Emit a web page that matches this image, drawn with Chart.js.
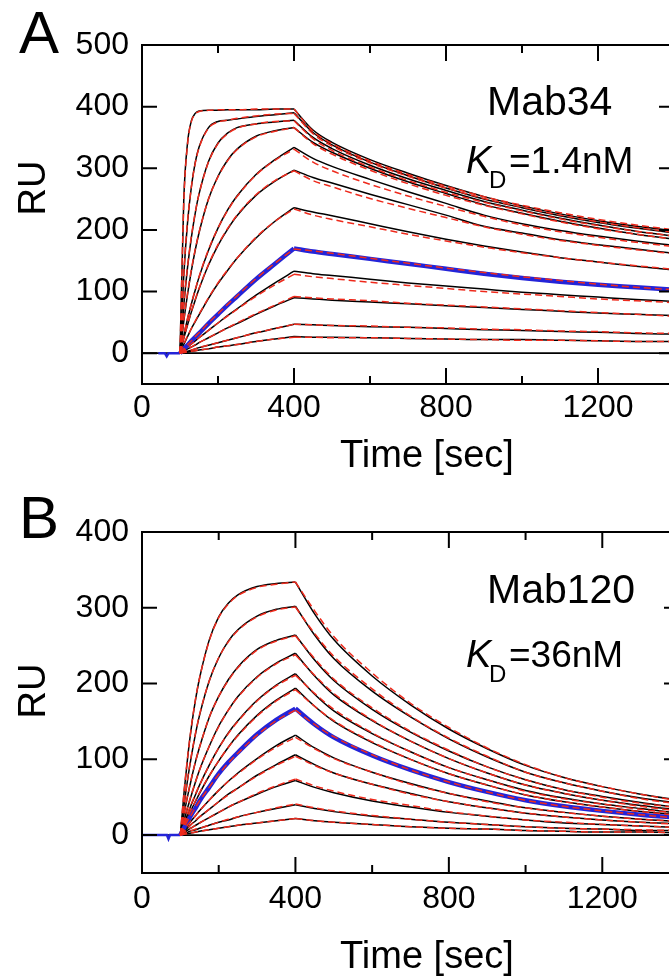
<!DOCTYPE html>
<html>
<head>
<meta charset="utf-8">
<script src="https://cdn.jsdelivr.net/npm/chart.js@4.4.0/dist/chart.umd.min.js"></script>
<style>
  html, body { margin: 0; padding: 0; background: #fff; overflow: hidden; width: 669px; height: 979px; }
  canvas { position: absolute; left: 0; }
  #chartA { top: 0; }
  #chartB { top: 480px; }
</style>
</head>
<body>
<canvas id="chartA" width="700" height="480"></canvas>
<canvas id="chartB" width="700" height="499"></canvas>
<script>
/* **** DATA **** */

// sample times (sec): injection at 100 s, dissociation from 400 s
const times = [100, 110, 120, 130, 140, 150, 175, 200, 225, 250, 300, 350, 400,
               450, 500, 600, 700, 800, 900, 1000, 1100, 1200, 1300, 1400];

const xTicks = [0, 400, 800, 1200];
const xMinorTicks = [200, 600, 1000];
const yTicksA = [0, 100, 200, 300, 400, 500];
const yTicksB = [0, 100, 200, 300, 400];

// baseline before injection (blue trace)
const baseTimesA = [43, 60, 65, 70, 100];
const baseValsA = [0, 0, -5, 0, 0];
const baseTimesB = [0, 60, 65, 69, 73, 100];
const baseValsB = [0, 0, 0, -5, 0, 0];

// Mab34 sensorgrams (black), index 7 is the blue one
const mab34Obs = [
  [0, 250, 342, 377, 389, 393, 394, 394, 395, 395, 395, 396, 396, 362, 342, 314, 292, 272, 254, 239, 226, 215, 206, 199],
  [0, 127, 213, 270, 309, 334, 366, 376, 378, 380, 384, 387, 390, 358, 338, 310, 288, 268, 250, 236, 223, 212, 203, 195],
  [0, 78, 140, 188, 227, 258, 311, 341, 357, 366, 372, 375, 378, 350, 332, 305, 283, 264, 246, 232, 219, 208, 198, 190],
  [0, 52, 96, 134, 167, 195, 250, 287, 313, 331, 352, 361, 366, 342, 326, 300, 278, 259, 241, 227, 214, 203, 193, 185],
  [0, 29, 56, 80, 102, 123, 167, 203, 232, 255, 290, 314, 334, 316, 303, 282, 262, 243, 224, 210, 199, 190, 182, 175],
  [0, 24, 46, 67, 86, 104, 143, 175, 201, 223, 256, 279, 297, 285, 276, 258, 241, 224, 206, 195, 184, 176, 169, 162],
  [0, 14, 27, 40, 51, 62, 89, 113, 134, 154, 187, 214, 236, 229, 223, 210, 197, 185, 174, 164, 155, 148, 141, 135],
  [0, 7, 13, 20, 26, 32, 48, 63, 78, 92, 120, 145, 170, 165, 161, 153, 145, 137, 129, 122, 116, 111, 107, 103],
  [0, 5, 10, 15, 20, 25, 37, 49, 61, 72, 94, 114, 133, 129, 126, 120, 114, 109, 104, 99, 95, 91, 87, 84],
  [0, 3, 7, 10, 13, 17, 25, 33, 41, 48, 63, 77, 90, 88, 86, 83, 80, 77, 74, 71, 68, 65, 63, 61],
  [0, 2, 3, 5, 7, 9, 13, 17, 21, 25, 33, 40, 47, 46, 45, 43, 42, 40, 38, 37, 35, 34, 32, 31],
  [0, 1, 2, 3, 4, 5, 7, 10, 12, 14, 19, 23, 27, 26, 26, 25, 24, 23, 22, 22, 21, 20, 19, 19]
];

// Mab34 fitted curves (red dashed)
const mab34Fit = [
  [0, 245, 340, 376, 388, 392, 394, 395, 395, 395, 396, 396, 396, 360, 340, 312, 290, 271, 254, 240, 228, 217, 208, 200],
  [0, 130, 215, 270, 308, 333, 365, 375, 378, 381, 385, 388, 389, 356, 336, 309, 287, 268, 251, 237, 224, 213, 204, 196],
  [0, 80, 142, 190, 228, 258, 310, 340, 356, 365, 372, 376, 377, 348, 329, 302, 280, 261, 245, 231, 218, 207, 198, 190],
  [0, 54, 98, 136, 168, 196, 250, 286, 312, 330, 351, 360, 366, 340, 323, 297, 275, 256, 240, 226, 213, 202, 193, 185],
  [0, 30, 57, 81, 103, 124, 168, 203, 231, 254, 289, 313, 331, 310, 296, 274, 255, 238, 222, 208, 197, 188, 180, 173],
  [0, 25, 47, 68, 87, 105, 144, 176, 202, 224, 257, 280, 296, 280, 270, 251, 235, 220, 205, 193, 183, 175, 168, 161],
  [0, 15, 28, 40, 52, 63, 90, 114, 135, 154, 188, 214, 234, 224, 217, 205, 193, 182, 172, 163, 155, 148, 142, 136],
  [0, 7, 14, 20, 27, 33, 49, 64, 79, 93, 121, 146, 169, 166, 162, 154, 146, 138, 131, 124, 118, 112, 107, 103],
  [0, 5, 10, 15, 20, 25, 37, 49, 60, 71, 92, 111, 128, 124, 121, 115, 110, 105, 100, 96, 92, 88, 85, 82],
  [0, 3, 7, 10, 14, 17, 25, 33, 41, 49, 64, 78, 92, 90, 88, 85, 81, 78, 75, 72, 69, 66, 63, 60],
  [0, 2, 4, 5, 7, 9, 13, 17, 21, 25, 33, 40, 47, 46, 45, 44, 42, 41, 39, 38, 36, 35, 33, 32],
  [0, 1, 2, 3, 4, 5, 7, 10, 12, 14, 19, 23, 26, 26, 25, 25, 24, 23, 22, 21, 21, 20, 19, 19]
];

// Mab120 sensorgrams (black), index 6 is the blue one
const mab120Obs = [
  [0, 58, 107, 147, 180, 207, 257, 288, 306, 317, 328, 332, 334, 292, 258, 210, 172, 140, 114, 92, 76, 64, 54, 46],
  [0, 41, 77, 108, 135, 158, 203, 234, 256, 271, 289, 298, 302, 264, 233, 190, 156, 127, 103, 83, 69, 58, 49, 42],
  [0, 29, 54, 77, 98, 116, 155, 183, 205, 222, 245, 257, 264, 231, 204, 166, 136, 111, 90, 73, 60, 51, 43, 36],
  [0, 20, 38, 55, 71, 86, 117, 144, 165, 183, 209, 227, 240, 210, 185, 151, 124, 101, 82, 66, 55, 46, 39, 33],
  [0, 15, 29, 42, 54, 66, 92, 115, 135, 151, 178, 198, 213, 186, 164, 134, 110, 89, 73, 59, 49, 41, 35, 29],
  [0, 12, 24, 35, 45, 55, 78, 98, 116, 132, 158, 178, 194, 170, 150, 122, 100, 81, 66, 53, 44, 37, 31, 27],
  [0, 10, 19, 28, 36, 45, 63, 81, 96, 109, 133, 152, 167, 146, 129, 105, 86, 70, 57, 46, 38, 32, 27, 23],
  [0, 7, 13, 20, 26, 32, 46, 59, 71, 82, 101, 118, 132, 115, 102, 83, 68, 55, 45, 36, 30, 25, 21, 18],
  [0, 5, 10, 15, 19, 24, 34, 44, 54, 62, 79, 93, 106, 93, 82, 67, 55, 44, 36, 29, 24, 20, 17, 15],
  [0, 3, 7, 10, 13, 16, 23, 30, 37, 43, 54, 64, 72, 63, 56, 45, 37, 30, 25, 20, 16, 14, 12, 10],
  [0, 2, 4, 6, 7, 9, 13, 17, 20, 24, 30, 35, 40, 35, 31, 25, 21, 17, 14, 11, 9, 8, 6, 6],
  [0, 1, 2, 3, 4, 5, 7, 9, 11, 13, 16, 19, 22, 19, 17, 14, 11, 9, 8, 6, 5, 4, 4, 3]
];

// Mab120 fitted curves (red dashed)
const mab120Fit = [
  [0, 60, 108, 148, 181, 207, 256, 287, 305, 316, 327, 331, 334, 296, 262, 214, 174, 142, 115, 93, 76, 64, 54, 45],
  [0, 42, 78, 109, 136, 159, 203, 234, 255, 270, 288, 297, 301, 266, 236, 193, 157, 128, 104, 83, 69, 58, 48, 41],
  [0, 30, 55, 78, 98, 116, 155, 183, 204, 221, 244, 256, 263, 233, 206, 168, 137, 112, 90, 73, 60, 50, 42, 36],
  [0, 21, 39, 56, 71, 86, 117, 143, 165, 182, 208, 226, 238, 211, 187, 152, 124, 101, 82, 66, 55, 46, 38, 32],
  [0, 16, 30, 43, 55, 66, 92, 115, 134, 150, 177, 197, 211, 187, 166, 135, 110, 89, 73, 58, 48, 41, 34, 29],
  [0, 13, 25, 35, 46, 56, 78, 98, 116, 131, 157, 177, 192, 170, 151, 123, 100, 81, 66, 53, 44, 37, 31, 26],
  [0, 10, 20, 28, 37, 45, 63, 80, 95, 108, 132, 151, 165, 146, 130, 106, 86, 70, 57, 46, 38, 32, 27, 22],
  [0, 7, 14, 20, 26, 32, 46, 59, 71, 81, 100, 116, 129, 114, 101, 83, 67, 55, 44, 36, 30, 25, 21, 18],
  [0, 5, 10, 15, 20, 24, 34, 44, 53, 62, 78, 92, 104, 92, 82, 67, 54, 44, 36, 29, 24, 20, 17, 14],
  [0, 4, 7, 10, 13, 16, 23, 30, 37, 43, 55, 65, 74, 65, 58, 47, 39, 31, 25, 20, 17, 14, 12, 10],
  [0, 2, 4, 6, 8, 9, 13, 17, 21, 24, 30, 36, 41, 36, 32, 26, 21, 17, 14, 11, 9, 8, 7, 6],
  [0, 1, 2, 3, 4, 5, 7, 9, 11, 13, 16, 19, 22, 19, 17, 14, 11, 9, 8, 6, 5, 4, 4, 3]
];

/* **** STYLE **** */

const FONT = "'Liberation Sans', Arial, Helvetica, sans-serif";
const BLACK = '#000000';
const BLUE = '#2424d8';
const RED = '#ee2a1c';

function pts(xs, ys) {
  return xs.map((x, i) => ({ x: x, y: ys[i] }));
}

// split every trace at the end of injection (400 s) so the peak stays sharp
const assocIdx = times.map((t, i) => i).filter(i => times[i] <= 400);
const dissIdx = times.map((t, i) => i).filter(i => times[i] >= 400);

function buildDatasets(obs, fit, blueIdx, baseT, baseV) {
  const sets = [];
  const common = { pointRadius: 0, fill: false, tension: 0.4, cubicInterpolationMode: 'monotone' };
  obs.forEach((vals, k) => {
    [assocIdx, dissIdx].forEach(idx => {
      sets.push(Object.assign({}, common, {
        data: idx.map(i => ({ x: times[i], y: vals[i] })),
        borderColor: k === blueIdx ? BLUE : BLACK,
        borderWidth: k === blueIdx ? 4.5 : 1.5,
        order: k === blueIdx ? 1 : 2
      }));
    });
  });
  fit.forEach(vals => {
    [assocIdx, dissIdx].forEach(idx => {
      sets.push(Object.assign({}, common, {
        data: idx.map(i => ({ x: times[i], y: vals[i] })),
        borderColor: RED,
        borderWidth: 1.5,
        borderDash: [7, 4],
        order: 0
      }));
    });
  });
  sets.push(Object.assign({}, common, {
    data: pts(baseT, baseV), tension: 0, cubicInterpolationMode: 'default',
    borderColor: BLUE, borderWidth: 2.5, order: 1
  }));
  return sets;
}

// frame, inward ticks, zero line and free text
const framePlugin = {
  id: 'frame',
  beforeDatasetsDraw(chart) {
    const { ctx, chartArea: a, scales } = chart;
    const y0 = scales.y.getPixelForValue(0);
    ctx.save();
    ctx.strokeStyle = BLACK;
    ctx.lineWidth = 1.8;
    ctx.beginPath();
    ctx.moveTo(a.left, y0);
    ctx.lineTo(a.right, y0);
    ctx.stroke();
    ctx.restore();
  },
  afterDatasetsDraw(chart, args, o) {
    const { ctx, chartArea: a, scales } = chart;
    ctx.save();
    ctx.strokeStyle = BLACK;
    ctx.lineWidth = 2;
    ctx.strokeRect(a.left, a.top, a.right - a.left, a.bottom - a.top);
    ctx.beginPath();
    xTicks.forEach(v => {
      const x = scales.x.getPixelForValue(v);
      ctx.moveTo(x, a.bottom); ctx.lineTo(x, a.bottom - 16);
      ctx.moveTo(x, a.top); ctx.lineTo(x, a.top + 16);
    });
    xMinorTicks.forEach(v => {
      const x = scales.x.getPixelForValue(v);
      ctx.moveTo(x, a.bottom); ctx.lineTo(x, a.bottom - 8);
      ctx.moveTo(x, a.top); ctx.lineTo(x, a.top + 8);
    });
    o.yTicks.forEach(v => {
      const y = scales.y.getPixelForValue(v);
      ctx.moveTo(a.left, y); ctx.lineTo(a.left + 15, y);
      ctx.moveTo(a.right, y); ctx.lineTo(a.right - 15, y);
    });
    ctx.stroke();

    ctx.fillStyle = BLACK;
    ctx.textBaseline = 'alphabetic';
    ctx.textAlign = 'left';
    ctx.font = '60px ' + FONT;
    ctx.fillText(o.letter, 19, o.letterY);
    ctx.font = '41px ' + FONT;
    ctx.fillText(o.name, 487, o.nameY);
    ctx.font = 'italic 38px ' + FONT;
    ctx.fillText('K', 466, o.kdY);
    ctx.font = '24px ' + FONT;
    ctx.fillText('D', 489, o.kdY + 15);
    ctx.font = '37px ' + FONT;
    ctx.fillText(o.kd, 509, o.kdY);
    ctx.font = '38px ' + FONT;
    ctx.fillText('Time [sec]', 340, o.timeY);
    ctx.translate(45, o.ruY);
    ctx.rotate(-Math.PI / 2);
    ctx.textAlign = 'center';
    ctx.fillText('RU', 0, 0);
    ctx.restore();
  }
};

function makeChart(id, cfg) {
  return new Chart(document.getElementById(id), {
    type: 'line',
    data: { datasets: buildDatasets(cfg.obs, cfg.fit, cfg.blueIdx, cfg.baseT, cfg.baseV) },
    options: {
      responsive: false,
      animation: false,
      layout: { padding: { left: 0, top: cfg.top, right: cfg.right, bottom: 0 } },
      plugins: {
        legend: { display: false },
        tooltip: { enabled: false },
        frame: cfg.frame
      },
      scales: {
        x: {
          type: 'linear', min: 0, max: 1400,
          afterBuildTicks: s => { s.ticks = xTicks.map(v => ({ value: v })); },
          afterFit: s => { s.height = cfg.xAxisH; },
          grid: { display: false, drawTicks: false },
          border: { display: false },
          ticks: { color: BLACK, font: { family: FONT, size: 32 }, padding: cfg.xPad, maxRotation: 0, autoSkip: false,
                   callback: v => String(v) }
        },
        y: {
          type: 'linear', min: -50, max: cfg.yMax,
          afterBuildTicks: s => { s.ticks = cfg.yTicks.map(v => ({ value: v })); },
          afterFit: s => { s.width = 142; },
          grid: { display: false, drawTicks: false },
          border: { display: false },
          ticks: { color: BLACK, font: { family: FONT, size: 32 }, padding: 13, callback: v => String(v) }
        }
      }
    },
    plugins: [framePlugin]
  });
}

/* **** MAIN **** */

makeChart('chartA', {
  obs: mab34Obs, fit: mab34Fit, blueIdx: 7, baseT: baseTimesA, baseV: baseValsA,
  top: 45, right: 26, xAxisH: 480 - 384, xPad: 5, yMax: 500, yTicks: yTicksA,
  frame: { yTicks: yTicksA, letter: 'A', letterY: 53, name: 'Mab34', nameY: 115, kd: '=1.4nM', kdY: 173, timeY: 467, ruY: 188 }
});

makeChart('chartB', {
  obs: mab120Obs, fit: mab120Fit, blueIdx: 6, baseT: baseTimesB, baseV: baseValsB,
  top: 52, right: 21, xAxisH: 499 - 393, xPad: 7, yMax: 400, yTicks: yTicksB,
  frame: { yTicks: yTicksB, letter: 'B', letterY: 58, name: 'Mab120', nameY: 123, kd: '=36nM', kdY: 187, timeY: 488, ruY: 211 }
});
</script>
</body>
</html>
